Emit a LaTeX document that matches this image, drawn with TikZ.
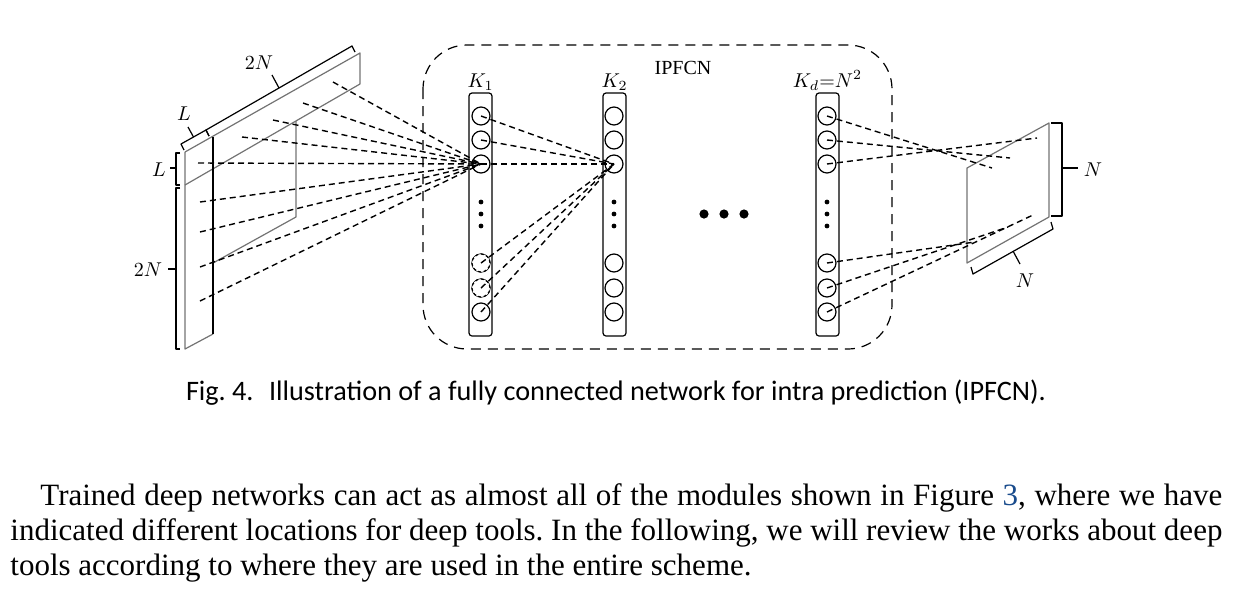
\documentclass[tikz,border=0pt]{standalone}
\usepackage{fontspec}
\setmainfont{Liberation Serif}
\newfontfamily\capfont{Carlito}
\usetikzlibrary{positioning}
\definecolor{edgegray}{RGB}{115,115,115}
\definecolor{linkblue}{RGB}{25,75,140}
\tikzset{neuron/.style={circle, draw=black, line width=0.6pt, minimum size=9pt, inner sep=0pt},ghostneuron/.style={neuron, dash pattern=on 1.6pt off 1.2pt}}
\tikzset{layerbox/.style={draw=black, line width=0.6pt, rounded corners=1.5pt, minimum width=11.5pt, minimum height=121.5pt, inner sep=0pt}}
\frenchspacing

\begin{document}
\begin{tikzpicture}[
        x=0.5pt, y=-0.5pt,
        line join=round,
        wire/.style={dash pattern=on 3pt off 2pt, line width=0.7pt},
        bracket/.style={draw=black, line width=0.6pt},
        blockedge/.style={draw=edgegray, line width=0.6pt},
        dimlabel/.style={font=\fontsize{10}{12}\selectfont, inner sep=1pt},
        bodyline/.style={font=\fontsize{15.5}{19}\selectfont, anchor=base west, inner sep=0pt}
    ]
        \useasboundingbox (0,0) rectangle (1250,596);
        % Input block
        \draw[blockedge] (185,152) -- (360,53) -- (360,84) -- (185,185);
        \draw[blockedge] (185,152) -- (185,349) -- (213,334);
        \draw[blockedge] (296,121) -- (296,217) -- (213,263);
        \draw[black, line width=0.6pt] (213,137) -- (213,334);
        % Brackets of the input block
        \draw[bracket] (184,150) -- (181,144) -- (206,130) -- (209,136);
        \draw[bracket] (209,136) -- (206,130) -- (352,46) -- (355,52);
        \draw[bracket] (193.5,137) -- (188,127);
        \draw[bracket] (279,88) -- (272,75);
        \draw[bracket] (180,153) -- (176,153) -- (176,185) -- (180,185);
        \draw[bracket] (180,188) -- (176,188) -- (176,349) -- (180,349);
        \draw[bracket] (176,168) -- (170,168);
        \draw[bracket] (176,269) -- (168,269);
        \node[dimlabel] (lenL) at (184,114) {$L$};
        \node[dimlabel] (len2N) at (259,63) {$2N$};
        \node[dimlabel] (sideL) at (159,170) {$L$};
        \node[dimlabel] (side2N) at (148,270) {$2N$};
        % Network frame
        \draw[line width=0.6pt, dash pattern=on 5pt off 3.5pt, rounded corners=22pt] (423,45) rectangle (892,349);
        \node[font=\fontsize{10}{12}\selectfont] (ipfcn) at (683,68) {IPFCN};
        % Layers
        \node[layerbox] (K1) at (480.5,214.5) {};
        \node[layerbox] (K2) at (614.5,214.5) {};
        \node[layerbox] (Kd) at (827.5,214.5) {};
        \node[dimlabel, above=0pt of K1] (K1lab) {$K_1$};
        \node[dimlabel, above=0pt of K2] (K2lab) {$K_2$};
        \node[dimlabel, above=0pt of Kd] (Kdlab) {$K_d{=}N^2$};
        \foreach \col/\x in {a/481, b/614, d/827} {
            \foreach \n/\y in {1/116, 2/140, 3/164, 4/263, 5/288, 6/312} {
                \node[neuron] (\col\n) at (\x,\y) {};
            }
            \foreach \y in {202, 214, 226} {
                \fill (\x,\y) circle (1.2pt);
            }
        }
        \node[ghostneuron, fill=white] at (a4) {};
        \node[ghostneuron, fill=white] at (a5) {};
        \foreach \x in {704, 724, 744} {
            \fill (\x,214) circle (2.3pt);
        }
        % Output block
        \draw[blockedge] (967,168) -- (1049,123) -- (1049,217) -- (967,263) -- cycle;
        \draw[bracket] (1051,123) -- (1062,123) -- (1062,216) -- (1051,216);
        \draw[bracket] (1062,168) -- (1078,168);
        \draw[bracket] (971,267) -- (973,274) -- (1053,229) -- (1051,222);
        \draw[bracket] (1013,251) -- (1020,264);
        \node[dimlabel] (outN) at (1093,170) {$N$};
        \node[dimlabel] (outNb) at (1025,281) {$N$};
        % Connections into K1
        \foreach \n/\sx/\sy in {1/333/82, 2/303/103, 3/273/120, 4/242/137, 5/198/163, 6/200/202, 7/200/232, 8/200/267, 9/200/301} {
            \coordinate (s\n) at (\sx,\sy);
            \draw[wire] (s\n) -- (a3.center);
        }
        % Connections into K2
        \foreach \n in {1,...,6} {
            \draw[wire] (a\n.center) -- (b3.center);
        }
        % Connections out of Kd
        \foreach \n/\ox/\oy in {1/992/168, 2/1010/158, 3/1037/138, 4/975/242, 5/1008/227, 6/1033/215} {
            \coordinate (o\n) at (\ox,\oy);
            \draw[wire] (d\n.center) -- (o\n);
        }
        % Caption
        \node[font=\capfont\fontsize{14.1}{17}\selectfont, anchor=base] (caption) at (616,400) {Fig. 4.\hspace{0.55em}Illustration of a fully connected network for intra prediction (IPFCN).};
        % Body text
        \node[bodyline] (line1) at (40,505) {\makebox[591pt][s]{Trained deep networks can act as almost all of the modules shown in Figure \textcolor{linkblue}{3}, where we have}};
        \node[bodyline] (line2) at (10,540) {\makebox[606pt][s]{indicated different locations for deep tools. In the following, we will review the works about deep}};
        \node[bodyline] (line3) at (10,575) {tools according to where they are used in the entire scheme.};
    \end{tikzpicture}
\end{document}
